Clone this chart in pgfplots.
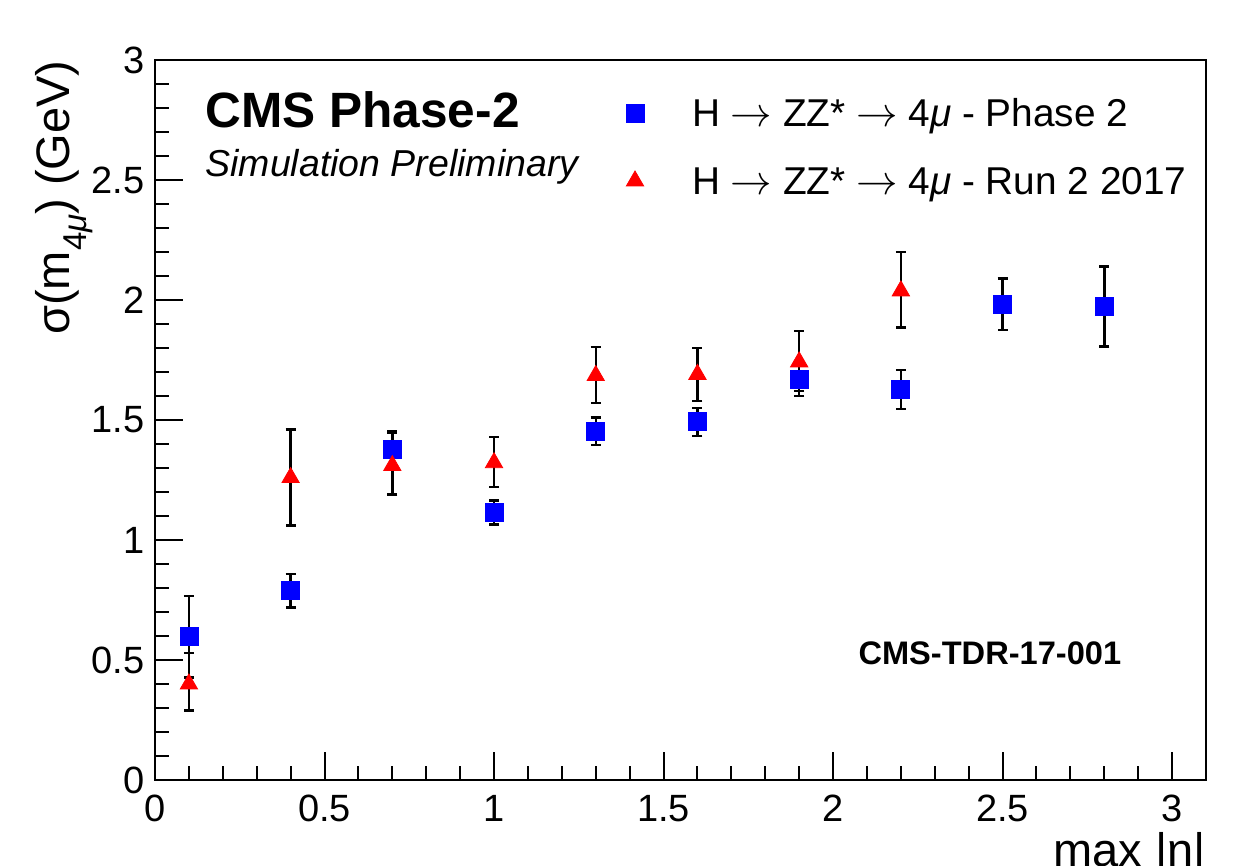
\documentclass[border=0pt]{standalone}
\usepackage{fontspec}
\setmainfont{Liberation Sans}
\usepackage{pgfplots}
\pgfplotsset{compat=1.18}
\pgfplotsset{mkleg/.style={legend image code/.code={\path[draw=none,fill=none] (-5pt,-6.95pt) rectangle (28.5pt,6.95pt); \draw[##1,mark repeat=1,mark phase=1] plot coordinates {(0pt,0pt)};}}}
\newcommand{\arr}{\ensuremath{\rightarrow}}
\begin{document}
\begin{tikzpicture}
\begin{axis}[
  name=ax,
  scale only axis,
  width=525.5pt, height=360pt,
  xmin=0, xmax=3.1, ymin=0, ymax=3,
  xtick={0,0.5,1,1.5,2,2.5,3},
  ytick={0,0.5,1,1.5,2,2.5,3},
  xticklabels={0,0.5,1,1.5,2,2.5,3},
  yticklabels={0,0.5,1,1.5,2,2.5,3},
  minor tick num=4,
  tick align=inside,
  xtick pos=lower, ytick pos=left,
  major tick length=14pt, minor tick length=7pt,
  every tick/.style={black, line width=1pt},
  axis line style={line width=1.1pt},
  ticklabel style={font=\fontsize{19}{19}\selectfont, inner sep=0pt},
  xticklabel style={yshift=-7.5pt},
  yticklabel style={xshift=-5pt},
  /pgf/number format/assume math mode=true,
  xlabel={max |η|},
  xlabel style={at={(rel axis cs:1,0)}, anchor=base east, yshift=-43.5pt, inner sep=0pt, font=\fontsize{23.5}{23.5}\selectfont},
  ylabel={σ(m\raisebox{-8.5pt}{\fontsize{16.5}{16.5}\selectfont 4\textit{μ}}) (GeV)},
  ylabel style={at={([xshift=-42.5pt]rel axis cs:0,1)}, anchor=base east, rotate=0, inner sep=0pt, font=\fontsize{23.5}{23.5}\selectfont},
  legend cell align=left,
  legend style={at={(rel axis cs:0.4472,0.9457)}, anchor=north west, draw=none, fill=none,
    inner sep=0pt, outer sep=0pt, row sep=20.1pt, column sep=0pt,
    nodes={inner sep=0pt, text height=13.9pt, text depth=0pt, font=\fontsize{19.4}{19.4}\selectfont}},
]
\addplot[only marks, mark=square*, mark size=4.5pt, blue, mkleg,
  error bars/.cd, y dir=both, y explicit,
  error bar style={black, line width=1.2pt},
  error mark options={rotate=90, black, mark size=2.5pt, line width=1.2pt}]
coordinates {
(0.1,0.597) += (0,0.17) -= (0,0.17)
(0.4,0.789) += (0,0.07) -= (0,0.07)
(0.7,1.379) += (0,0.075) -= (0,0.075)
(1.0,1.114) += (0,0.05) -= (0,0.05)
(1.3,1.451) += (0,0.06) -= (0,0.055)
(1.6,1.493) += (0,0.057) -= (0,0.06)
(1.9,1.671) += (0,0.07) -= (0,0.07)
(2.2,1.629) += (0,0.08) -= (0,0.083)
(2.5,1.982) += (0,0.107) -= (0,0.107)
(2.8,1.974) += (0,0.166) -= (0,0.168)
};
\addlegendentry{H \arr{} ZZ* \arr{} 4\textit{μ} - Phase 2}
\addplot[only marks, mark=triangle*, mark size=5pt, red, mkleg,
  error bars/.cd, y dir=both, y explicit,
  error bar style={black, line width=1.2pt},
  error mark options={rotate=90, black, mark size=2.5pt, line width=1.2pt}]
coordinates {
(0.1,0.40) += (0,0.13) -= (0,0.11)
(0.4,1.26) += (0,0.20) -= (0,0.20)
(0.7,1.31) += (0,0.135) -= (0,0.12)
(1.0,1.322) += (0,0.108) -= (0,0.10)
(1.3,1.685) += (0,0.12) -= (0,0.113)
(1.6,1.69) += (0,0.11) -= (0,0.11)
(1.9,1.742) += (0,0.128) -= (0,0.12)
(2.2,2.038) += (0,0.161) -= (0,0.153)
};
\addlegendentry{H \arr{} ZZ* \arr{} 4\textit{μ} - Run 2 2017}
\node[anchor=base west, inner sep=0pt, font=\fontsize{24.8}{24.8}\selectfont\bfseries] at (rel axis cs:0.0476,0.9056) {CMS Phase-2};
\node[anchor=base west, inner sep=0pt, font=\fontsize{18.75}{18.75}\selectfont\itshape] at (rel axis cs:0.0476,0.8375) {Simulation Preliminary};
\node[anchor=base west, inner sep=0pt, font=\fontsize{16.3}{16.3}\selectfont\bfseries] at (rel axis cs:0.669,0.161) {CMS-TDR-17-001};
\node[anchor=base east, inner sep=0pt, font=\fontsize{19.8}{19.8}\selectfont] at ([yshift=7pt]rel axis cs:1,1) {14 TeV, 200 PU};
\end{axis}
\pgfresetboundingbox
\path[use as bounding box] ([xshift=-77.5pt,yshift=-43pt]ax.south west) rectangle ([xshift=15pt,yshift=30pt]ax.north east);
\end{tikzpicture}
\end{document}
